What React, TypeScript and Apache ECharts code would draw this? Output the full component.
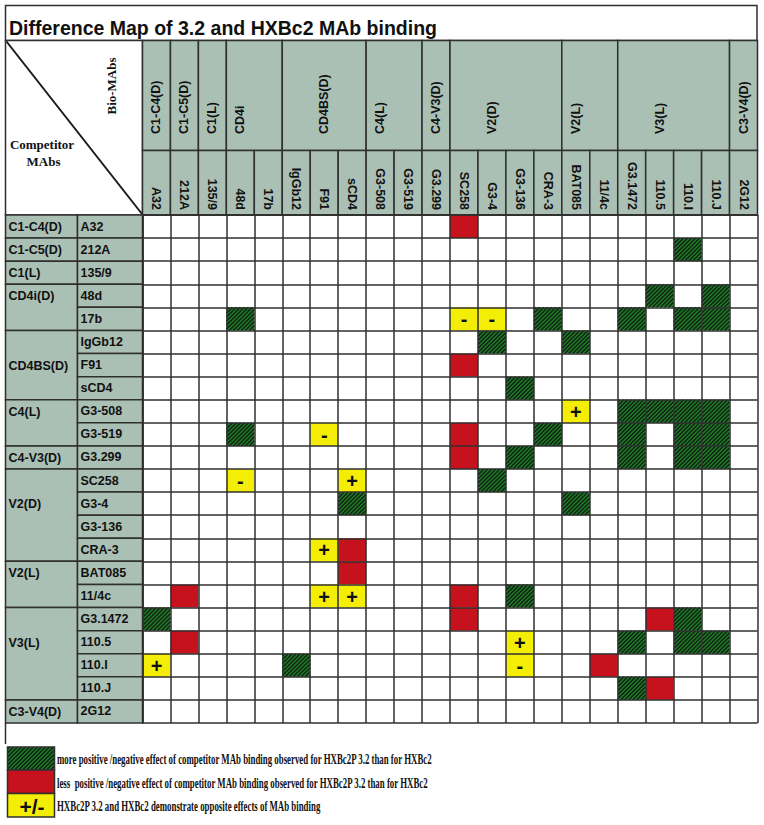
import React, { useEffect, useRef } from "react";
import * as echarts from "echarts";

const title = "Difference Map of 3.2 and HXBc2 MAb binding";
const columns = ["A32", "212A", "135/9", "48d", "17b", "IgGb12", "F91", "sCD4", "G3-508", "G3-519", "G3.299", "SC258", "G3-4", "G3-136", "CRA-3", "BAT085", "11/4c", "G3.1472", "110.5", "110.I", "110.J", "2G12"];
const rows = ["A32", "212A", "135/9", "48d", "17b", "IgGb12", "F91", "sCD4", "G3-508", "G3-519", "G3.299", "SC258", "G3-4", "G3-136", "CRA-3", "BAT085", "11/4c", "G3.1472", "110.5", "110.I", "110.J", "2G12"];
const columnGroups: [string, number][] = [["C1-C4(D)", 1], ["C1-C5(D)", 1], ["C1(L)", 1], ["CD4i", 2], ["CD4BS(D)", 3], ["C4(L)", 2], ["C4-V3(D)", 1], ["V2(D)", 4], ["V2(L)", 2], ["V3(L)", 4], ["C3-V4(D)", 1]];
const rowGroups: [string, number][] = [["C1-C4(D)", 1], ["C1-C5(D)", 1], ["C1(L)", 1], ["CD4i(D)", 2], ["CD4BS(D)", 3], ["C4(L)", 2], ["C4-V3(D)", 1], ["V2(D)", 4], ["V2(L)", 2], ["V3(L)", 4], ["C3-V4(D)", 1]];
const cornerTop = "Bio-MAbs";
const cornerBottom = ["Competitor", "MAbs"];

// [Bio-MAb (column), Competitor MAb (row)]
const greenCells: [string, string][] = [
  ["110.I", "212A"],
  ["110.5", "48d"], ["110.J", "48d"],
  ["48d", "17b"], ["CRA-3", "17b"], ["G3.1472", "17b"], ["110.I", "17b"], ["110.J", "17b"],
  ["G3-4", "IgGb12"], ["BAT085", "IgGb12"],
  ["G3-136", "sCD4"],
  ["G3.1472", "G3-508"], ["110.5", "G3-508"], ["110.I", "G3-508"], ["110.J", "G3-508"],
  ["48d", "G3-519"], ["CRA-3", "G3-519"], ["G3.1472", "G3-519"], ["110.I", "G3-519"], ["110.J", "G3-519"],
  ["G3-136", "G3.299"], ["G3.1472", "G3.299"], ["110.I", "G3.299"], ["110.J", "G3.299"],
  ["G3-4", "SC258"],
  ["sCD4", "G3-4"], ["BAT085", "G3-4"],
  ["G3-136", "11/4c"],
  ["A32", "G3.1472"], ["110.I", "G3.1472"],
  ["G3.1472", "110.5"], ["110.I", "110.5"], ["110.J", "110.5"],
  ["IgGb12", "110.I"],
  ["G3.1472", "110.J"],
];
const redCells: [string, string][] = [
  ["SC258", "A32"], ["SC258", "F91"], ["SC258", "G3-519"], ["SC258", "G3.299"],
  ["sCD4", "CRA-3"], ["sCD4", "BAT085"],
  ["212A", "11/4c"], ["SC258", "11/4c"],
  ["SC258", "G3.1472"], ["110.5", "G3.1472"],
  ["212A", "110.5"],
  ["11/4c", "110.I"],
  ["110.5", "110.J"],
];
const yellowCells: [string, string, string][] = [
  ["SC258", "17b", "-"], ["G3-4", "17b", "-"],
  ["BAT085", "G3-508", "+"],
  ["F91", "G3-519", "-"],
  ["48d", "SC258", "-"], ["sCD4", "SC258", "+"],
  ["F91", "CRA-3", "+"],
  ["F91", "11/4c", "+"], ["sCD4", "11/4c", "+"],
  ["G3-136", "110.5", "+"],
  ["A32", "110.I", "+"], ["G3-136", "110.I", "-"],
];
const legendSymbol = "+/-";
const legendTexts = [
  "more positive /negative effect of competitor MAb binding observed for HXBc2P 3.2 than for HXBc2",
  "less  positive /negative effect of competitor MAb binding observed for HXBc2P 3.2 than for HXBc2",
  "HXBc2P 3.2 and HXBc2 demonstrate opposite effects of MAb binding",
];

const LINE = "#2f2f2f";
const HEADER_FILL = "#abc0b5";
const GREEN = "#247a2b";
const STRIPE = "#0c2410";
const RED = "#c6121c";
const YELLOW = "#f4ee06";
const SANS = '"Liberation Sans", Arial, sans-serif';
const SERIF = '"Liberation Serif", "Times New Roman", serif';

const OUTER_LEFT = 5.5;
const ROW_NAME_LEFT = 77.5;
const HEADER_TOP = 40.5;
const HEADER_MID = 150.5;
const GROUP_LABEL_BOTTOM = 134;

function starts(groups: [string, number][]) {
  let s = 0;
  return groups.map(([, span]) => {
    const r = [s, span];
    s += span;
    return r;
  });
}

function hatch(x: number, y: number, w: number, h: number) {
  const out: any[] = [];
  const period = 4;
  for (let c = x + y + period / 2; c < x + w + y + h; c += period) {
    const lo = Math.max(x, c - (y + h));
    const hi = Math.min(x + w, c - y);
    if (hi > lo) {
      out.push({
        type: "line",
        silent: true,
        shape: { x1: lo, y1: c - lo, x2: hi, y2: c - hi },
        style: { stroke: STRIPE, lineWidth: 1.4 },
      });
    }
  }
  return out;
}

export default function App() {
  const ref = useRef<HTMLDivElement>(null);
  useEffect(() => {
    if (!ref.current) return;
    const chart = echarts.init(ref.current, undefined, { renderer: "svg" });

    const cells: { value: number[]; sign: string }[] = [];
    greenCells.forEach(([c, r]) => cells.push({ value: [columns.indexOf(c), rows.indexOf(r), 0], sign: "" }));
    redCells.forEach(([c, r]) => cells.push({ value: [columns.indexOf(c), rows.indexOf(r), 1], sign: "" }));
    yellowCells.forEach(([c, r, s]) => cells.push({ value: [columns.indexOf(c), rows.indexOf(r), 2], sign: s }));

    const colStarts = starts(columnGroups);
    const rowStarts = starts(rowGroups);

    const LEGEND_FONT = `bold 15px ${SERIF}`;
    const ctx = document.createElement("canvas").getContext("2d")!;
    ctx.font = LEGEND_FONT;
    const measured = ctx.measureText(legendTexts[0]).width || 640;
    const sx = 376 / measured;

    const textStyle = (text: string, font: string, align: string, valign: string) => ({
      text,
      fill: "#111",
      font,
      align,
      textAlign: align,
      verticalAlign: valign,
      textVerticalAlign: valign,
    });

    const option: any = {
      animation: false,
      backgroundColor: "#ffffff",
      grid: { left: 142.5, top: 215, width: 615, height: 508, show: false },
      xAxis: {
        type: "category",
        data: columns,
        position: "top",
        z: 10,
        boundaryGap: true,
        axisLine: { show: true, lineStyle: { color: LINE, width: 1.5 } },
        axisTick: { show: false },
        axisLabel: { interval: 0, rotate: 90, margin: 5, color: "#111", fontSize: 12.5, fontWeight: "bold", fontFamily: SANS },
        splitLine: { show: true, interval: 0, lineStyle: { color: LINE, width: 1.5 } },
      },
      yAxis: {
        type: "category",
        data: rows,
        inverse: true,
        z: 10,
        boundaryGap: true,
        axisLine: { show: true, lineStyle: { color: LINE, width: 1.5 } },
        axisTick: { show: false },
        axisLabel: { interval: 0, align: "left", margin: 62, color: "#111", fontSize: 12.5, fontWeight: "bold", fontFamily: SANS },
        splitLine: { show: true, interval: 0, lineStyle: { color: LINE, width: 1.5 } },
      },
      series: [
        {
          type: "custom",
          name: "column groups",
          z: 1,
          silent: true,
          data: colStarts.map(([s, span]) => [s, 0, span]),
          renderItem: (params: any, api: any) => {
            const start = api.value(0);
            const span = api.value(2);
            const c = api.coord([start, 0]);
            const sz = api.size([1, 1]);
            const x0 = c[0] - sz[0] / 2;
            const gridTop = c[1] - sz[1] / 2;
            const labelCol = start + Math.floor((span - 1) / 2);
            const lc = api.coord([labelCol, 0]);
            const children: any[] = [
              {
                type: "rect",
                shape: { x: x0, y: HEADER_TOP, width: sz[0] * span, height: HEADER_MID - HEADER_TOP },
                style: { fill: HEADER_FILL, stroke: LINE, lineWidth: 1.5 },
              },
            ];
            for (let k = 0; k < span; k++) {
              children.push({
                type: "rect",
                shape: { x: x0 + k * sz[0], y: HEADER_MID, width: sz[0], height: gridTop - HEADER_MID },
                style: { fill: HEADER_FILL, stroke: LINE, lineWidth: 1.5 },
              });
            }
            children.push({
              type: "text",
              x: lc[0],
              y: GROUP_LABEL_BOTTOM,
              rotation: Math.PI / 2,
              style: textStyle(columnGroups[params.dataIndex][0], `bold 12.5px ${SANS}`, "left", "middle"),
            });
            return { type: "group", children };
          },
        },
        {
          type: "custom",
          name: "row groups",
          z: 1,
          silent: true,
          data: rowStarts.map(([s, span]) => [0, s, span]),
          renderItem: (params: any, api: any) => {
            const start = api.value(1);
            const span = api.value(2);
            const c = api.coord([0, start]);
            const sz = api.size([1, 1]);
            const y0 = c[1] - sz[1] / 2;
            const gridLeft = c[0] - sz[0] / 2;
            const labelRow = start + Math.floor((span - 1) / 2);
            const lc = api.coord([0, labelRow]);
            const children: any[] = [
              {
                type: "rect",
                shape: { x: OUTER_LEFT, y: y0, width: ROW_NAME_LEFT - OUTER_LEFT, height: sz[1] * span },
                style: { fill: HEADER_FILL, stroke: LINE, lineWidth: 1.5 },
              },
            ];
            for (let k = 0; k < span; k++) {
              children.push({
                type: "rect",
                shape: { x: ROW_NAME_LEFT, y: y0 + k * sz[1], width: gridLeft - ROW_NAME_LEFT, height: sz[1] },
                style: { fill: HEADER_FILL, stroke: LINE, lineWidth: 1.5 },
              });
            }
            children.push({
              type: "text",
              x: 8.5,
              y: lc[1] + 0.5,
              style: textStyle(rowGroups[params.dataIndex][0], `bold 12.5px ${SANS}`, "left", "middle"),
            });
            return { type: "group", children };
          },
        },
        {
          type: "custom",
          name: "difference",
          z: 2,
          silent: true,
          data: cells,
          renderItem: (params: any, api: any) => {
            const c = api.coord([api.value(0), api.value(1)]);
            const sz = api.size([1, 1]);
            const x = c[0] - sz[0] / 2;
            const y = c[1] - sz[1] / 2;
            const t = api.value(2);
            if (t === 0) {
              return {
                type: "group",
                children: [
                  { type: "rect", shape: { x, y, width: sz[0], height: sz[1] }, style: { fill: GREEN } },
                  ...hatch(x, y, sz[0], sz[1]),
                ],
              };
            }
            if (t === 1) {
              return { type: "rect", shape: { x, y, width: sz[0], height: sz[1] }, style: { fill: RED } };
            }
            return {
              type: "group",
              children: [
                { type: "rect", shape: { x, y, width: sz[0], height: sz[1] }, style: { fill: YELLOW } },
                {
                  type: "text",
                  x: c[0],
                  y: c[1] + 0.5,
                  style: textStyle(cells[params.dataIndex].sign, `bold 20px ${SANS}`, "center", "middle"),
                },
              ],
            };
          },
        },
      ],
      graphic: {
        elements: [
          {
            type: "rect",
            silent: true,
            shape: { x: OUTER_LEFT, y: 5.5, width: 751.5, height: HEADER_TOP - 5.5 },
            style: { fill: "#fff", stroke: LINE, lineWidth: 1.5 },
          },
          {
            type: "text",
            silent: true,
            x: 9,
            y: 28,
            style: textStyle(title, `bold 19.5px ${SANS}`, "left", "middle"),
          },
          {
            type: "rect",
            silent: true,
            shape: { x: OUTER_LEFT, y: HEADER_TOP, width: 142.5 - OUTER_LEFT, height: 215 - HEADER_TOP },
            style: { fill: "#fff", stroke: LINE, lineWidth: 1.5 },
          },
          {
            type: "line",
            silent: true,
            shape: { x1: OUTER_LEFT + 1, y1: HEADER_TOP + 1, x2: 142, y2: 214 },
            style: { stroke: "#1a1a1a", lineWidth: 2 },
          },
          {
            type: "text",
            silent: true,
            x: 111,
            y: 86,
            rotation: Math.PI / 2,
            style: textStyle(cornerTop, `bold 13px ${SERIF}`, "center", "middle"),
          },
          {
            type: "text",
            silent: true,
            x: 42,
            y: 144,
            style: textStyle(cornerBottom[0], `bold 13px ${SERIF}`, "center", "middle"),
          },
          {
            type: "text",
            silent: true,
            x: 43.5,
            y: 161,
            style: textStyle(cornerBottom[1], `bold 13px ${SERIF}`, "center", "middle"),
          },
          {
            type: "line",
            silent: true,
            shape: { x1: OUTER_LEFT, y1: 723, x2: OUTER_LEFT, y2: 744 },
            style: { stroke: LINE, lineWidth: 1.5 },
          },
          {
            type: "group",
            silent: true,
            children: [
              { type: "rect", shape: { x: 7.5, y: 747, width: 47, height: 23 }, style: { fill: GREEN } },
              ...hatch(7.5, 747, 47, 23),
              { type: "rect", shape: { x: 7.5, y: 747, width: 47, height: 23 }, style: { fill: "none", stroke: LINE, lineWidth: 1.5 } },
            ],
          },
          {
            type: "rect",
            silent: true,
            shape: { x: 7.5, y: 770, width: 47, height: 23.5 },
            style: { fill: RED, stroke: LINE, lineWidth: 1.5 },
          },
          {
            type: "rect",
            silent: true,
            shape: { x: 7.5, y: 793.5, width: 47, height: 23.5 },
            style: { fill: YELLOW, stroke: LINE, lineWidth: 1.5 },
          },
          {
            type: "text",
            silent: true,
            x: 32,
            y: 806,
            style: textStyle(legendSymbol, `bold 21px ${SANS}`, "center", "middle"),
          },
          ...legendTexts.map((t, i) => ({
            type: "text",
            silent: true,
            x: 57,
            y: [759.5, 783, 806.5][i],
            scaleX: sx,
            style: textStyle(t, LEGEND_FONT, "left", "middle"),
          })),
        ],
      },
    };
    chart.setOption(option);
    return () => chart.dispose();
  }, []);
  return (
    <div
      ref={ref}
      style={{ position: "absolute", left: 0, top: 0, width: 764, height: 825, background: "#fff" }}
    />
  );
}
